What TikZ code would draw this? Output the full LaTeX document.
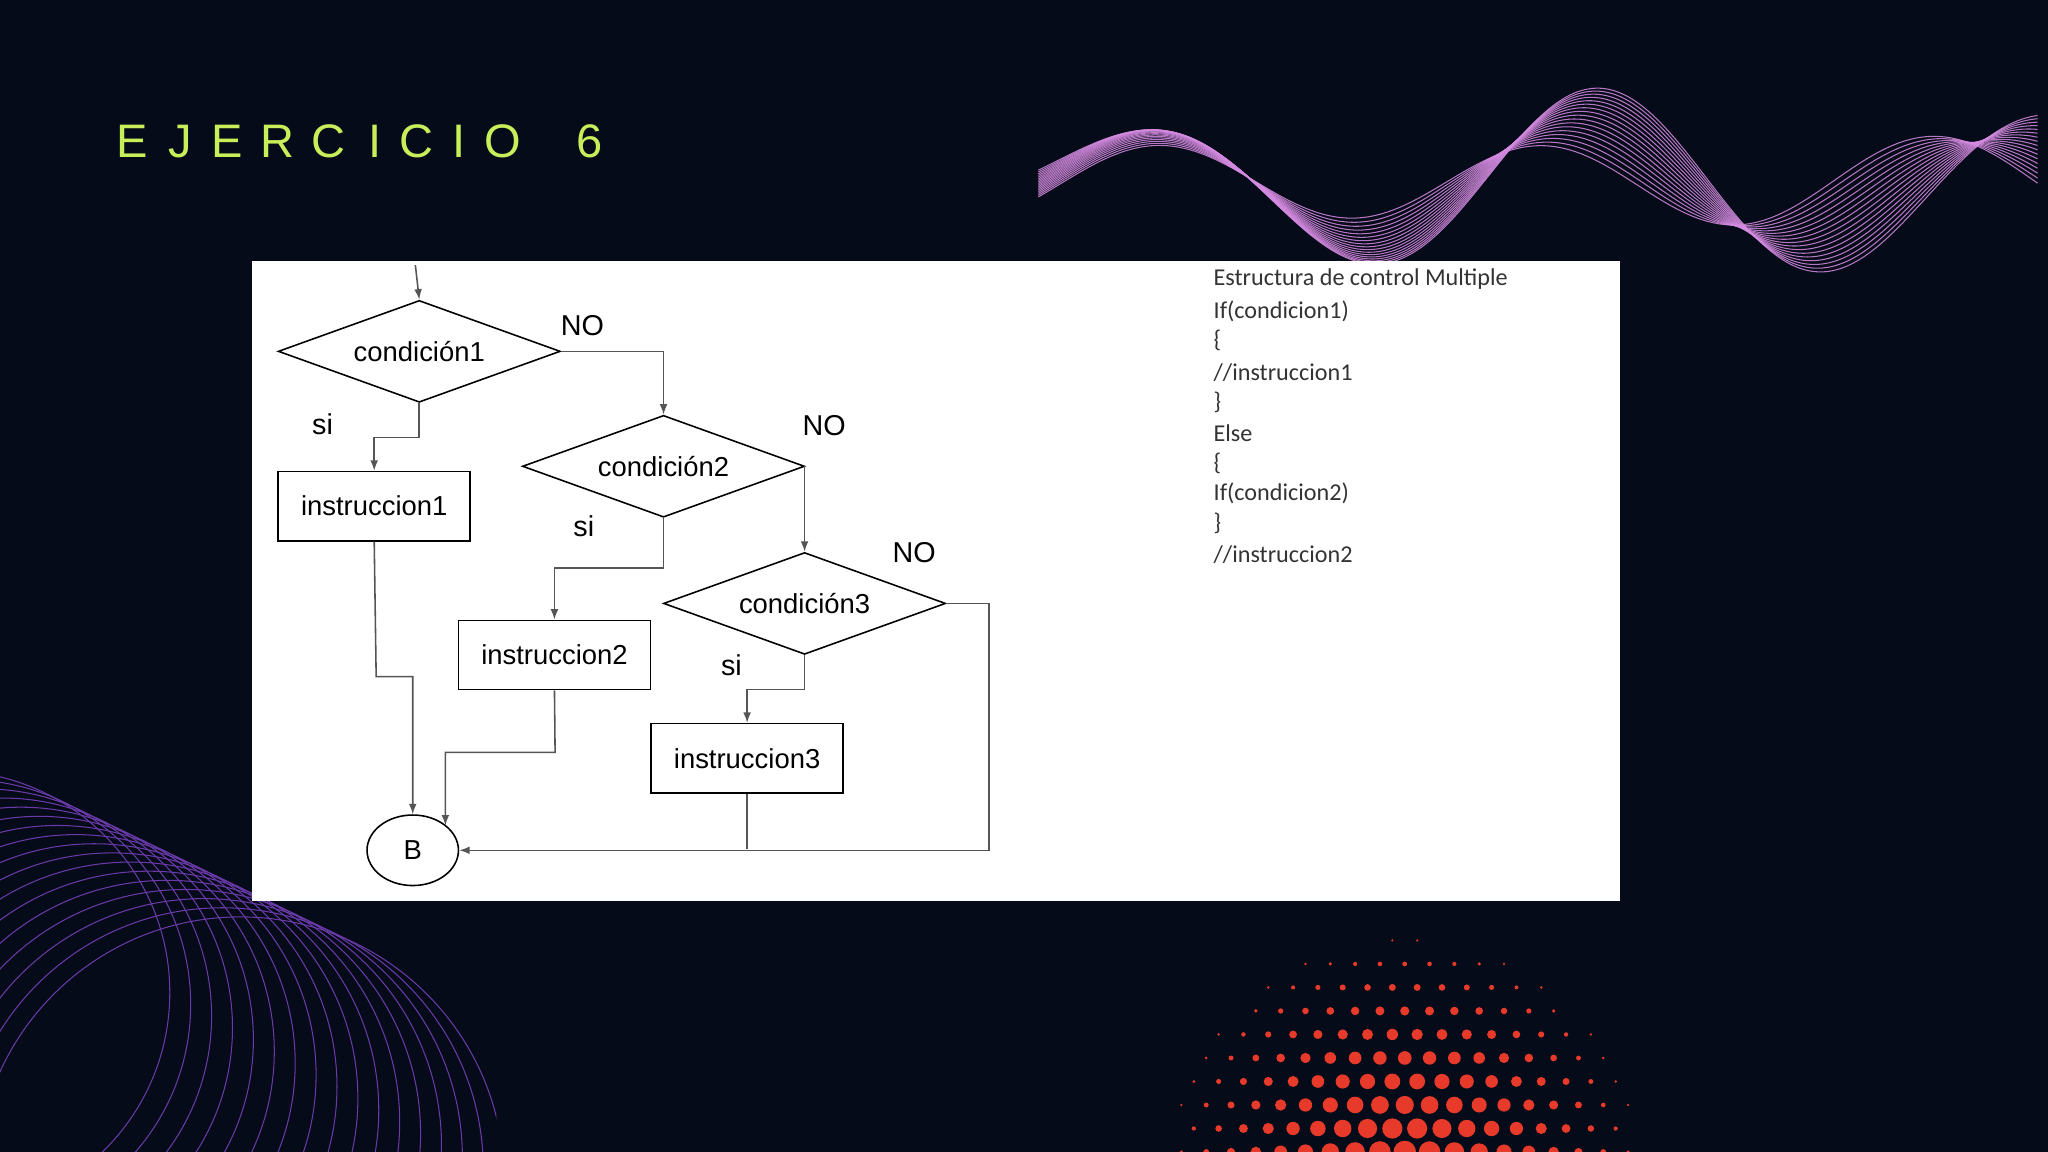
\documentclass[tikz,border=0pt]{standalone}
\usepackage{fontspec}
\setmainfont{Liberation Sans}
\newfontfamily\codefont{Carlito}
\newfontfamily\ttlfont{Liberation Sans}
\usetikzlibrary{shapes.geometric,arrows.meta}
\definecolor{bg}{HTML}{050B18}
\definecolor{ttlc}{HTML}{C8EE5A}
\definecolor{wavec}{HTML}{D48AE0}
\definecolor{circc}{HTML}{6A3AA8}
\definecolor{dotc}{HTML}{E83A2A}
\definecolor{ln}{HTML}{555555}
\begin{document}
\begin{tikzpicture}[x=1pt,y=-1pt,
  dia/.style={draw=black,diamond,aspect=2.77,minimum width=216pt,minimum height=78pt,inner sep=0pt,font=\fontsize{21}{22}\selectfont,line width=1.2pt},
  box/.style={draw=black,rectangle,minimum width=147pt,minimum height=53pt,inner sep=0pt,font=\fontsize{21}{22}\selectfont,line width=1.2pt},
  con/.style={draw=ln,line width=1.2pt},
  arr/.style={con,-{Latex[length=8pt,width=6pt]}},
  lab/.style={font=\fontsize{22}{22}\selectfont,text=black},
  code/.style={font=\codefont\fontsize{18.5}{20}\selectfont,text=black!80,anchor=west,inner sep=0pt}]
\useasboundingbox (0,0) rectangle (1568,882);
\fill[bg] (0,0) rectangle (1568,882);
% title
\foreach \c/\x in {E/89,J/129,E/162,R/199,C/238,I/282,C/306,I/346,O/371,6/441}
  \node[anchor=west,inner sep=0pt,text=ttlc,font=\ttlfont\fontsize{36}{38}\selectfont] at (\x,108) {\c};
% waves
\foreach \i in {0,...,16}{
  \draw[wavec,line width=0.8pt,opacity=0.85] plot[domain=795:1560,samples=140,smooth] (\x,{140+(\i-8)*3*cos((\x-795)*0.9)-52*sin((\x-820+\i*3)*1.0909)*(0.6+0.4*sin((\x-795)*0.2353))});
}
% circles
\begin{scope}
\clip (0,585) -- (0,882) -- (380,882) -- (380,585) -- cycle;
\foreach \i in {0,...,16}{
  \draw[circc,line width=0.8pt] (-40+\i*14,760+\i*9) circle[radius=170+\i*2];
}
\end{scope}
% dots
\foreach \gx in {0,...,19}{
  \foreach \gy in {0,...,9}{
    \pgfmathsetmacro\px{895+\gx*19+mod(\gy,2)*9.5}
    \pgfmathsetmacro\py{720+\gy*18}
    \pgfmathsetmacro\dd{veclen(\px-1075,\py-900)}
    \pgfmathsetmacro\rr{9.5*(1-\dd/200)}
    \ifdim\rr pt>0.9pt \fill[dotc] (\px,\py) circle[radius=\rr]; \fi
  }
}
% panel
\fill[white] (193,200) rectangle (1240,690);
% flowchart
\coordinate (in) at (318,203);
\node[dia] (d1) at (321,269) {condición1};
\node[dia] (d2) at (508,357) {condición2};
\node[dia] (d3) at (616,462) {condición3};
\node[box] (b1) at (286.5,387.5) {instruccion1};
\node[box] (b2) at (424.5,501.5) {instruccion2};
\node[box] (b3) at (572,580.5) {instruccion3};
\node[draw=black,ellipse,minimum width=70pt,minimum height=54pt,inner sep=0pt,line width=1.2pt,font=\fontsize{21}{22}\selectfont] (B) at (316,651) {B};
\draw[arr] (in) -- (d1.north);
\draw[arr] (d1.east) -| (d2.north);
\draw[arr] (d2.east) -| (d3.north);
\draw[arr] (d1.south) -- (321,335) -| (b1.north);
\draw[arr] (d2.south) -- (508,435) -| (b2.north);
\draw[arr] (d3.south) -- (616,528) -| (b3.north);
\draw[arr] (b1.south) -- (288,518) -| (B.north);
\draw[arr] (b2.south) -- (425,576) -| (341,632);
\draw[arr] (d3.east) -- (757,462) |- (B.east);
\draw[con] (b3.south) -- (572,650);
\node[lab] at (446,249) {NO};
\node[lab] at (631,326) {NO};
\node[lab] at (700,423) {NO};
\node[lab] at (247,325) {si};
\node[lab] at (447,403) {si};
\node[lab] at (560,509) {si};
% code
\node[code] at (929,214) {Estructura de control Multiple};
\node[code] at (929,238) {If(condicion1)};
\node[code] at (929,261) {\{};
\node[code] at (929,285) {//instruccion1};
\node[code] at (929,308) {\}};
\node[code] at (929,332) {Else};
\node[code] at (929,355) {\{};
\node[code] at (929,378) {If(condicion2)};
\node[code] at (929,401) {\}};
\node[code] at (929,425) {//instruccion2};
\end{tikzpicture}
\end{document}
